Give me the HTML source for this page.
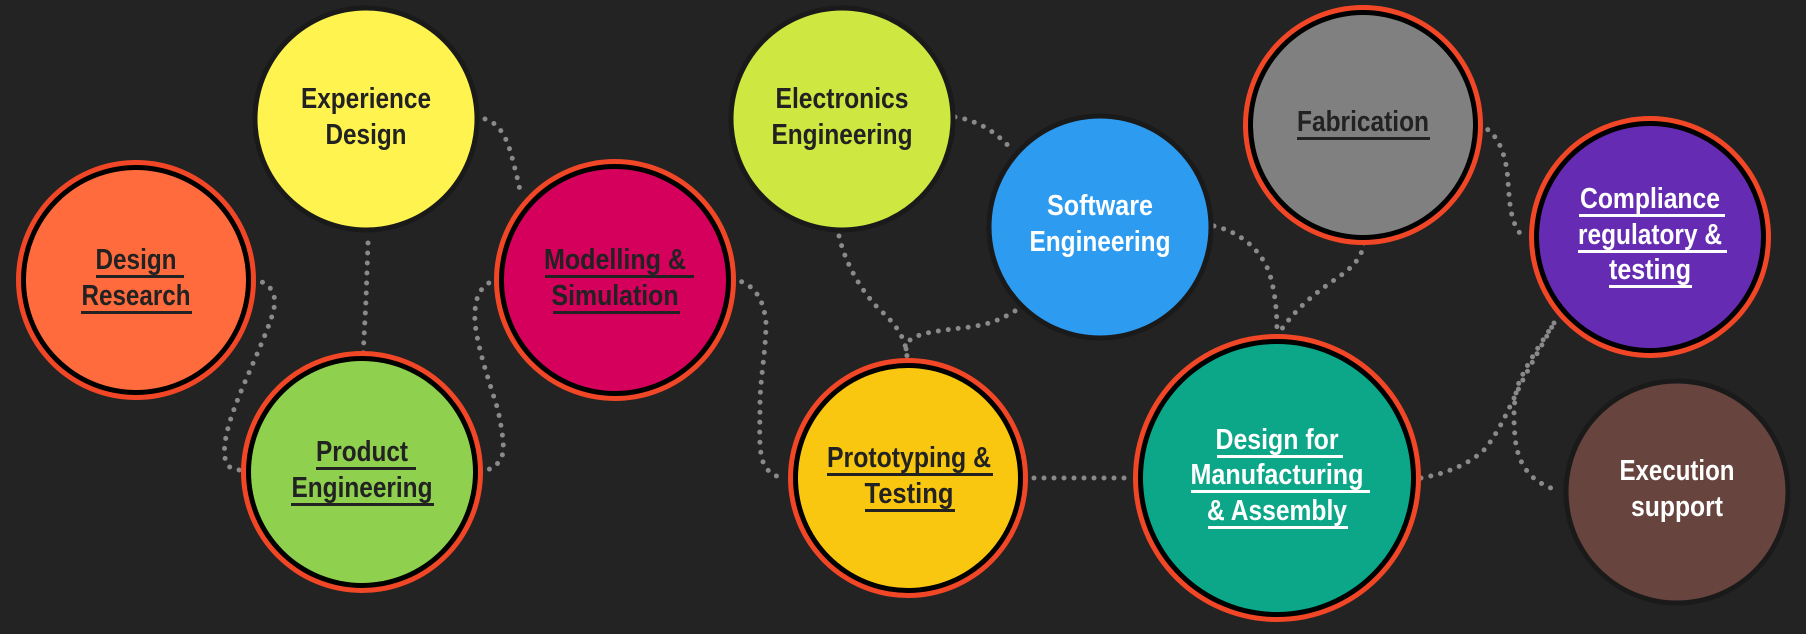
<!DOCTYPE html>
<html><head><meta charset="utf-8"><style>
html,body{margin:0;padding:0;background:#232323;}
svg{display:block;}
text{font-family:"Liberation Sans Narrow","Liberation Sans",sans-serif;font-weight:bold;font-size:29px;text-anchor:middle;}
</style></head><body>
<svg width="1806" height="634" viewBox="0 0 1806 634" xmlns="http://www.w3.org/2000/svg">
<rect width="1806" height="634" fill="#232323"/>
<g fill="none" stroke="#8a8a8a" stroke-width="5" stroke-linecap="round" stroke-linejoin="round" stroke-dasharray="0 10">
<path d="M485,119 C505,125 510,150 514,165 C518,180 520,190 521,196"/>
<path d="M368,243 L366,300 L363,357"/>
<path d="M253,279 C280,285 276,305 271,319 C262,345 245,380 236,404 C226,430 222,450 226,462 C230,470 236,470 240,470"/>
<path d="M498,279 C478,285 474,300 475,323 C478,350 490,384 498,410 C504,440 506,455 498,463 C492,470 484,471 478,471"/>
<path d="M732,279 C755,283 764,300 766,323 C766,350 760,380 760,404 C760,430 758,455 765,466 C770,474 776,477 783,477"/>
<path d="M839,236 C845,262 860,290 880,310 C898,326 906,340 907,357"/>
<path d="M1015,311 C1000,320 990,324 970,327 C945,330 920,332 910,340 C906,344 906,348 906,352"/>
<path d="M955,117 C975,120 995,130 1012,150"/>
<path d="M1214,226 C1240,232 1262,250 1270,275 C1277,300 1277,320 1277,342"/>
<path d="M1364,243 C1362,255 1356,265 1340,276 C1318,291 1295,308 1277,336"/>
<path d="M1024,478 L1128,478"/>
<path d="M1479,125 C1500,132 1507,160 1508,182 C1510,205 1510,225 1525,239"/>
<path d="M1421,478 C1445,474 1470,464 1485,449 C1500,430 1508,410 1518,390 C1530,365 1545,340 1554,323"/>
<path d="M1554,323 C1540,345 1526,365 1518,385 C1512,405 1514,430 1516,445 C1520,465 1530,483 1560,491"/>
</g>
<g stroke-width="0">
<circle cx="136" cy="280" r="120" fill="#f24726"/><circle cx="136" cy="280" r="115" fill="#000"/><circle cx="136" cy="280" r="110" fill="#ff6b3d"/>
<circle cx="362" cy="472" r="121" fill="#f24726"/><circle cx="362" cy="472" r="116" fill="#000"/><circle cx="362" cy="472" r="111" fill="#8fd14f"/>
<circle cx="615" cy="280" r="121" fill="#f24726"/><circle cx="615" cy="280" r="116" fill="#000"/><circle cx="615" cy="280" r="111" fill="#d5005c"/>
<circle cx="908" cy="478" r="120" fill="#f24726"/><circle cx="908" cy="478" r="115" fill="#000"/><circle cx="908" cy="478" r="110" fill="#fac710"/>
<circle cx="1363" cy="125" r="120" fill="#f24726"/><circle cx="1363" cy="125" r="115" fill="#000"/><circle cx="1363" cy="125" r="110" fill="#808080"/>
<circle cx="1277" cy="478" r="144" fill="#f24726"/><circle cx="1277" cy="478" r="139" fill="#000"/><circle cx="1277" cy="478" r="134" fill="#0ca789"/>
<circle cx="1650" cy="237" r="121" fill="#f24726"/><circle cx="1650" cy="237" r="116" fill="#000"/><circle cx="1650" cy="237" r="111" fill="#652cb3"/>
</g>
<g stroke="#1a1a1a" stroke-width="5">
<circle cx="366" cy="119" r="111" fill="#fff44f"/>
<circle cx="842" cy="119" r="111" fill="#cee741"/>
<circle cx="1100" cy="227" r="111" fill="#2d9bf0"/>
<circle cx="1677" cy="492" r="111" fill="#67443e"/>
</g>
<g fill="#222">
<text x="366" y="108" textLength="130" lengthAdjust="spacingAndGlyphs">Experience</text>
<text x="366" y="144" textLength="81" lengthAdjust="spacingAndGlyphs">Design</text>
<text x="136" y="269" textLength="81" lengthAdjust="spacingAndGlyphs">Design</text>
<text x="136" y="305" textLength="109" lengthAdjust="spacingAndGlyphs">Research</text>
<text x="362" y="461" textLength="92" lengthAdjust="spacingAndGlyphs">Product</text>
<text x="362" y="497" textLength="141" lengthAdjust="spacingAndGlyphs">Engineering</text>
<text x="615" y="269" textLength="142" lengthAdjust="spacingAndGlyphs">Modelling &amp;</text>
<text x="615" y="305" textLength="127" lengthAdjust="spacingAndGlyphs">Simulation</text>
<text x="842" y="108" textLength="133" lengthAdjust="spacingAndGlyphs">Electronics</text>
<text x="842" y="144" textLength="141" lengthAdjust="spacingAndGlyphs">Engineering</text>
<text x="909" y="467" textLength="164" lengthAdjust="spacingAndGlyphs">Prototyping &amp;</text>
<text x="909" y="503" textLength="89" lengthAdjust="spacingAndGlyphs">Testing</text>
<text x="1363" y="131" textLength="132" lengthAdjust="spacingAndGlyphs">Fabrication</text>
</g>
<g fill="#fff">
<text x="1100" y="215" textLength="106" lengthAdjust="spacingAndGlyphs">Software</text>
<text x="1100" y="251" textLength="141" lengthAdjust="spacingAndGlyphs">Engineering</text>
<text x="1677" y="480" textLength="115" lengthAdjust="spacingAndGlyphs">Execution</text>
<text x="1677" y="516" textLength="92" lengthAdjust="spacingAndGlyphs">support</text>
<text x="1650" y="208" textLength="140" lengthAdjust="spacingAndGlyphs">Compliance</text>
<text x="1650" y="244" textLength="144" lengthAdjust="spacingAndGlyphs">regulatory &amp;</text>
<text x="1650" y="279" textLength="82" lengthAdjust="spacingAndGlyphs">testing</text>
<text x="1277" y="449" textLength="123" lengthAdjust="spacingAndGlyphs">Design for</text>
<text x="1277" y="484" textLength="173" lengthAdjust="spacingAndGlyphs">Manufacturing</text>
<text x="1277" y="520" textLength="140" lengthAdjust="spacingAndGlyphs">&amp; Assembly</text>
</g>
<g fill="#222">
<rect x="96" y="275" width="88" height="3"/>
<rect x="81" y="311" width="111" height="3"/>
<rect x="316" y="467" width="100" height="3"/>
<rect x="291" y="503" width="143" height="3"/>
<rect x="545" y="275" width="149" height="3"/>
<rect x="553" y="311" width="127" height="3"/>
<rect x="827" y="473" width="166" height="3"/>
<rect x="865" y="509" width="90" height="3"/>
<rect x="1297" y="137" width="133" height="3"/>
</g>
<g fill="#fff">
<rect x="1579" y="214" width="146" height="3"/>
<rect x="1578" y="250" width="149" height="3"/>
<rect x="1609" y="285" width="83" height="3"/>
<rect x="1217" y="455" width="126" height="3"/>
<rect x="1191" y="490" width="179" height="3"/>
<rect x="1208" y="526" width="140" height="3"/>
</g>
</svg>
</body></html>
